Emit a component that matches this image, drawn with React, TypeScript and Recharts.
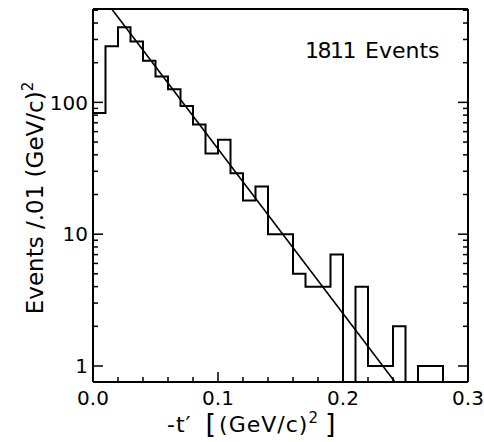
import { ComposedChart, Line, XAxis, YAxis, Label } from 'recharts';

// lower edge of each 0.01 (GeV/c)^2 bin, last entry closes the histogram
const binStart = [0, 0.01, 0.02, 0.03, 0.04, 0.05, 0.06, 0.07, 0.08, 0.09, 0.1, 0.11, 0.12, 0.13, 0.14,
    0.15, 0.16, 0.17, 0.18, 0.19, 0.2, 0.21, 0.22, 0.23, 0.24, 0.25, 0.26, 0.27, 0.28];
const counts = [83, 266, 371, 290, 207, 157, 126, 94, 68, 41, 52, 29, 18, 23, 10,
    10, 5, 4, 4, 7, 0, 4, 1, 1, 2, 0, 1, 1, 0];

// exponential fit, end points
const fitT = [0.015, 0.2416];
const fitN = [511, 0.756];

const xTicks = [0, 0.02, 0.04, 0.06, 0.08, 0.1, 0.12, 0.14, 0.16, 0.18, 0.2, 0.22, 0.24, 0.26, 0.28, 0.3];
const yTicks = [1, 2, 3, 4, 5, 6, 7, 8, 9, 10, 20, 30, 40, 50, 60, 70, 80, 90, 100, 200, 300, 400, 500];

const Y_DOMAIN: [number, number] = [0.756, 511];
const FLOOR = 0.3; // empty bins drop below the log axis and get clipped

const histData = binStart.map((t, i) => ({ t, n: counts[i] > 0 ? counts[i] : FLOOR }));
const fitData = fitT.map((t, i) => ({ t, n: fitN[i] }));

const FONT = 'DejaVu Sans, sans-serif';
const TM = 4;
const isMajorX = (v: number) => Math.abs(v * 10 - Math.round(v * 10)) < 1e-6;
const isMajorY = (v: number) => Math.abs(Math.log10(v) - Math.round(Math.log10(v))) < 1e-6;

function BottomTick({ x, y, payload }: any) {
    const v = payload.value;
    const major = isMajorX(v);
    const ay = y - TM;
    return (
        <g>
            <line x1={x} x2={x} y1={ay} y2={ay - (major ? 10 : 5)} stroke="#000" strokeWidth={1.5} />
            {major && <text x={x} y={ay + 23} textAnchor="middle" fontSize={20} fontFamily={FONT} fill="#000">{v.toFixed(1)}</text>}
        </g>
    );
}

function TopTick({ x, y, payload }: any) {
    const major = isMajorX(payload.value);
    const ay = y + TM;
    return <line x1={x} x2={x} y1={ay} y2={ay + (major ? 10 : 5)} stroke="#000" strokeWidth={1.5} />;
}

function LeftTick({ x, y, payload }: any) {
    const v = payload.value;
    const major = isMajorY(v);
    const ax = x + TM;
    return (
        <g>
            <line x1={ax} x2={ax + (major ? 10 : 5)} y1={y} y2={y} stroke="#000" strokeWidth={1.5} />
            {major && <text x={ax - 5} y={y} dy="0.36em" textAnchor="end" fontSize={20} fontFamily={FONT} fill="#000">{v}</text>}
        </g>
    );
}

function RightTick({ x, y, payload }: any) {
    const major = isMajorY(payload.value);
    const ax = x - TM;
    return <line x1={ax} x2={ax - (major ? 10 : 5)} y1={y} y2={y} stroke="#000" strokeWidth={1.5} />;
}

const axisLine = { stroke: '#000', strokeWidth: 2 };

export default function App() {
    return (
        <div style={{ position: 'absolute', left: 0, top: 0, background: '#fff' }}>
            <ComposedChart width={484} height={442} margin={{ top: 8, right: 15, bottom: 0, left: 0 }}>
                <XAxis xAxisId="b" dataKey="t" type="number" domain={[0, 0.3]} ticks={xTicks} interval={0}
                    height={60} tickSize={0} tickMargin={TM} tickLine={false} axisLine={axisLine} tick={<BottomTick />}>
                    <Label content={() => (
                        <text x={167} y={432} textAnchor="start" fontSize={22} fontFamily={FONT} fill="#000" letterSpacing={1}>
                            -t′ <tspan fontSize={27} dy={1} dx={6}>[</tspan><tspan dy={-1} dx={2}>(GeV/c)</tspan>
                            <tspan fontSize={15} dy={-9}>2</tspan><tspan fontSize={27} dy={10} dx={6}>]</tspan>
                        </text>
                    )} />
                </XAxis>
                <XAxis xAxisId="t" orientation="top" type="number" domain={[0, 0.3]} ticks={xTicks} interval={0}
                    height={1} tickSize={0} tickMargin={TM} tickLine={false} axisLine={axisLine} tick={<TopTick />}>
                    <Label content={() => (
                        <text x={305} y={58} textAnchor="start" fontSize={22} fontFamily={FONT} fill="#000">
                            <tspan letterSpacing={-1.5}>1811</tspan><tspan dx={10}>Events</tspan>
                        </text>
                    )} />
                </XAxis>
                <YAxis yAxisId="l" type="number" scale="log" domain={Y_DOMAIN} allowDataOverflow ticks={yTicks}
                    interval={0} width={93} tickSize={0} tickMargin={TM} tickLine={false} axisLine={axisLine} tick={<LeftTick />}>
                    <Label content={() => (
                        <text x={0} y={0} transform="translate(43,198) rotate(-90)" textAnchor="middle"
                            fontSize={23} fontFamily={FONT} fill="#000">
                            Events /.01 (GeV/c)<tspan fontSize={15} dy={-10}>2</tspan>
                        </text>
                    )} />
                </YAxis>
                <YAxis yAxisId="r" orientation="right" type="number" scale="log" domain={Y_DOMAIN} allowDataOverflow
                    ticks={yTicks} interval={0} width={1} tickSize={0} tickMargin={TM} tickLine={false}
                    axisLine={axisLine} tick={<RightTick />} />
                <Line xAxisId="b" yAxisId="l" data={histData} dataKey="n" type="stepAfter" stroke="#000"
                    strokeWidth={2} dot={false} isAnimationActive={false} />
                <Line xAxisId="b" yAxisId="l" data={fitData} dataKey="n" type="linear" stroke="#000"
                    strokeWidth={1.6} dot={false} isAnimationActive={false} />
            </ComposedChart>
        </div>
    );
}
